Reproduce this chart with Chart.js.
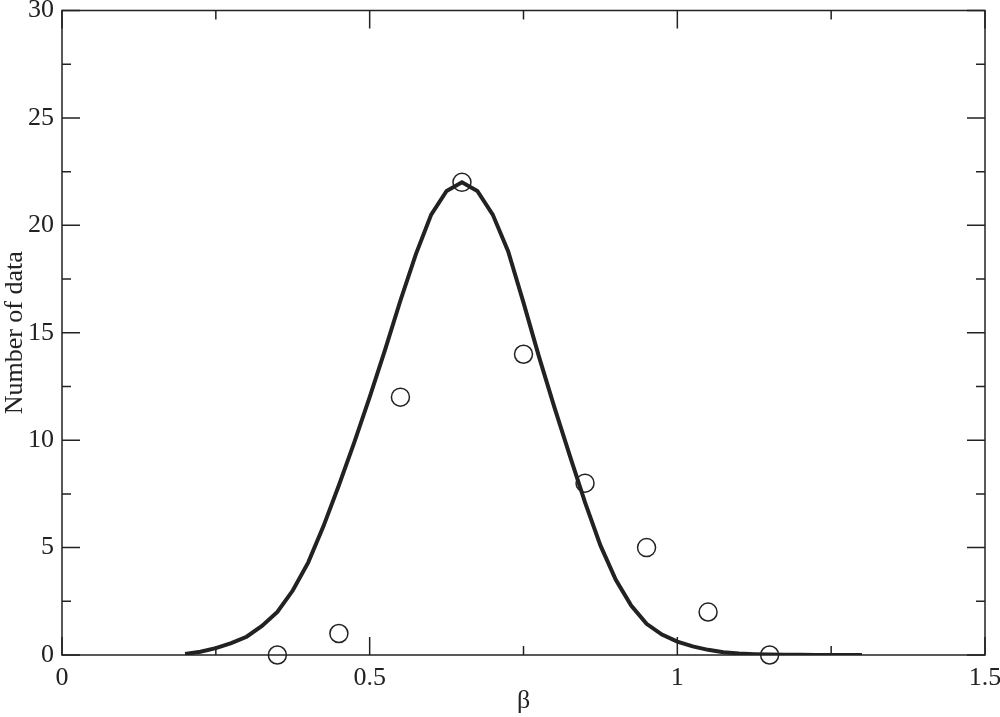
<!DOCTYPE html>
<html>
<head>
<meta charset="utf-8">
<script src="https://cdn.jsdelivr.net/npm/chart.js@4.4.1/dist/chart.umd.min.js"></script>
<style>
  body { margin: 0; background: #fff; }
</style>
</head>
<body>
<canvas id="myChart" width="1000" height="717"></canvas>
<script>
// fitted curve
const curveX = [0.2, 0.225, 0.25, 0.275, 0.3, 0.325, 0.35, 0.375, 0.4, 0.425, 0.45, 0.475,
  0.5, 0.525, 0.55, 0.575, 0.6, 0.625, 0.65, 0.675, 0.7, 0.725, 0.75, 0.775, 0.8, 0.825,
  0.85, 0.875, 0.9, 0.925, 0.95, 0.975, 1.0, 1.025, 1.05, 1.075, 1.1, 1.125, 1.15, 1.175,
  1.2, 1.225, 1.25, 1.275, 1.3];
const curveY = [0.05, 0.15, 0.32, 0.55, 0.85, 1.35, 2.0, 3.0, 4.3, 6.0, 7.9, 9.9,
  12.0, 14.2, 16.5, 18.65, 20.5, 21.6, 22.0, 21.6, 20.5, 18.8, 16.4, 13.9, 11.55, 9.3,
  7.1, 5.1, 3.5, 2.3, 1.45, 0.95, 0.62, 0.4, 0.24, 0.13, 0.07, 0.04, 0.02, 0.01,
  0.01, 0, 0, 0, 0];

// histogram counts (open circles)
const binCenters = [0.35, 0.45, 0.55, 0.65, 0.75, 0.85, 0.95, 1.05, 1.15];
const counts = [0, 1, 12, 22, 14, 8, 5, 2, 0];

const xTicks = [0, 0.5, 1, 1.5];
const xMinor = [0.25, 0.75, 1.25];
const yTicks = [0, 5, 10, 15, 20, 25, 30];
const yMinor = [2.5, 7.5, 12.5, 17.5, 22.5, 27.5];

const ink = '#222';
const font = { family: '"Liberation Serif", "DejaVu Serif", serif', size: 26 };

// frame + inward ticks on all four sides
const frameTicks = {
  id: 'frameTicks',
  afterDatasetsDraw(chart) {
    const { ctx, chartArea: a, scales: { x, y } } = chart;
    ctx.save();
    ctx.strokeStyle = ink;
    ctx.lineWidth = 1.5;
    ctx.strokeRect(a.left, a.top, a.right - a.left, a.bottom - a.top);
    ctx.beginPath();
    const tx = (v, len) => {
      const px = x.getPixelForValue(v);
      ctx.moveTo(px, a.bottom); ctx.lineTo(px, a.bottom - len);
      ctx.moveTo(px, a.top); ctx.lineTo(px, a.top + len);
    };
    const ty = (v, len) => {
      const py = y.getPixelForValue(v);
      ctx.moveTo(a.left, py); ctx.lineTo(a.left + len, py);
      ctx.moveTo(a.right, py); ctx.lineTo(a.right - len, py);
    };
    xTicks.forEach(v => tx(v, 18));
    xMinor.forEach(v => tx(v, 9));
    yTicks.forEach(v => ty(v, 18));
    yMinor.forEach(v => ty(v, 9));
    ctx.stroke();
    ctx.restore();
  }
};

new Chart(document.getElementById('myChart'), {
  type: 'scatter',
  data: {
    datasets: [
      {
        type: 'line',
        data: curveX.map((v, i) => ({ x: v, y: curveY[i] })),
        borderColor: ink,
        borderWidth: 4,
        pointRadius: 0,
        tension: 0,
        fill: false
      },
      {
        data: binCenters.map((v, i) => ({ x: v, y: counts[i] })),
        pointStyle: 'circle',
        pointRadius: 9,
        pointBorderWidth: 1.5,
        pointBackgroundColor: 'rgba(0,0,0,0)',
        pointBorderColor: ink,
        clip: false
      }
    ]
  },
  options: {
    responsive: false,
    devicePixelRatio: 1,
    animation: false,
    layout: { padding: { top: 9, right: 15, left: 0, bottom: 0 } },
    plugins: { legend: { display: false }, tooltip: { enabled: false } },
    scales: {
      x: {
        type: 'linear',
        min: 0, max: 1.5,
        afterBuildTicks: s => { s.ticks = xTicks.map(v => ({ value: v })); },
        afterFit: s => { s.height = 62; s.paddingLeft = 0; s.paddingRight = 0; },
        grid: { display: false, drawTicks: false },
        border: { display: false },
        ticks: { color: ink, font, padding: 8, maxRotation: 0, callback: v => String(v) },
        title: { display: true, text: 'β', color: ink, font, padding: { top: 0, bottom: 0 } }
      },
      y: {
        type: 'linear',
        min: 0, max: 30,
        afterBuildTicks: s => { s.ticks = yTicks.map(v => ({ value: v })); },
        afterFit: s => { s.width = 62; s.paddingTop = 0; s.paddingBottom = 0; },
        grid: { display: false, drawTicks: false },
        border: { display: false },
        ticks: { color: ink, font, padding: 8 },
        title: { display: true, text: 'Number of data', color: ink, font, padding: { top: 0, bottom: 0 } }
      }
    }
  },
  plugins: [frameTicks]
});
</script>
</body>
</html>
